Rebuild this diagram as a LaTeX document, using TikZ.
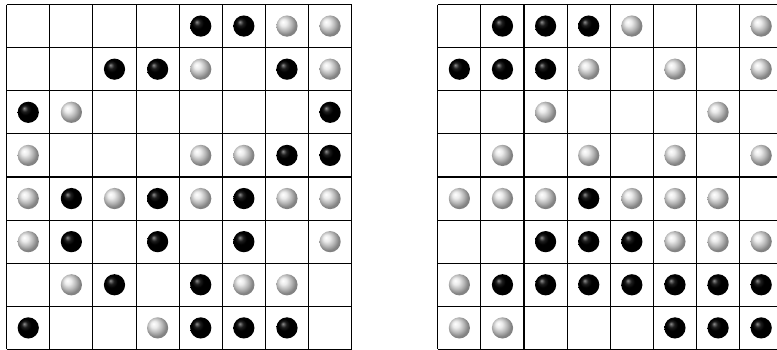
\documentclass[tikz,border=0pt]{standalone}
\pgfdeclareradialshading{wball}{\pgfpoint{-10bp}{10bp}}{color(0bp)=(white); color(8bp)=(black!8); color(17bp)=(black!28); color(25bp)=(black!48); color(50bp)=(black!60)}
\pgfdeclareradialshading{bball}{\pgfpoint{-10bp}{10bp}}{color(0bp)=(black!45); color(7bp)=(black!88); color(14bp)=(black); color(50bp)=(black)}
\begin{document}
\begin{tikzpicture}[x=1pt,y=1pt,line width=1.1pt,
  blk/.style={shading=bball},
  wht/.style={shading=wball}]
\useasboundingbox (0,-349) rectangle (777,0);
\clip (0,-349) rectangle (777,0);
\def\cs{43.12}
\def\oy{4.5}
\foreach \ox/\board in {
  6.7/{{0,0,0,0,1,1,2,2},{0,0,1,1,2,0,1,2},{1,2,0,0,0,0,0,1},{2,0,0,0,2,2,1,1},{2,1,2,1,2,1,2,2},{2,1,0,1,0,1,0,2},{0,2,1,0,1,2,2,0},{1,0,0,2,1,1,1,0}},
  437.8/{{0,1,1,1,2,0,0,2},{1,1,1,2,0,2,0,2},{0,0,2,0,0,0,2,0},{0,2,0,2,0,2,0,2},{2,2,2,1,2,2,2,0},{0,0,1,1,1,2,2,2},{2,1,1,1,1,1,1,1},{2,2,0,0,0,1,1,1}}}{
  \foreach \i in {0,...,8}{
    \draw (\ox+\i*\cs,-\oy) -- (\ox+\i*\cs,-\oy-8*\cs);
    \draw (\ox,-\oy-\i*\cs) -- (\ox+8*\cs,-\oy-\i*\cs);
  }
  \foreach \row [count=\r] in \board {
    \foreach \v [count=\k] in \row {
      \ifnum\v=1
        \shade[blk] (\ox+\k*\cs-0.5*\cs,-\oy-\r*\cs+0.5*\cs) circle (10.6);
      \fi
      \ifnum\v=2
        \shade[wht] (\ox+\k*\cs-0.5*\cs,-\oy-\r*\cs+0.5*\cs) circle (10.6);
      \fi
    }
  }
}
\end{tikzpicture}
\end{document}
